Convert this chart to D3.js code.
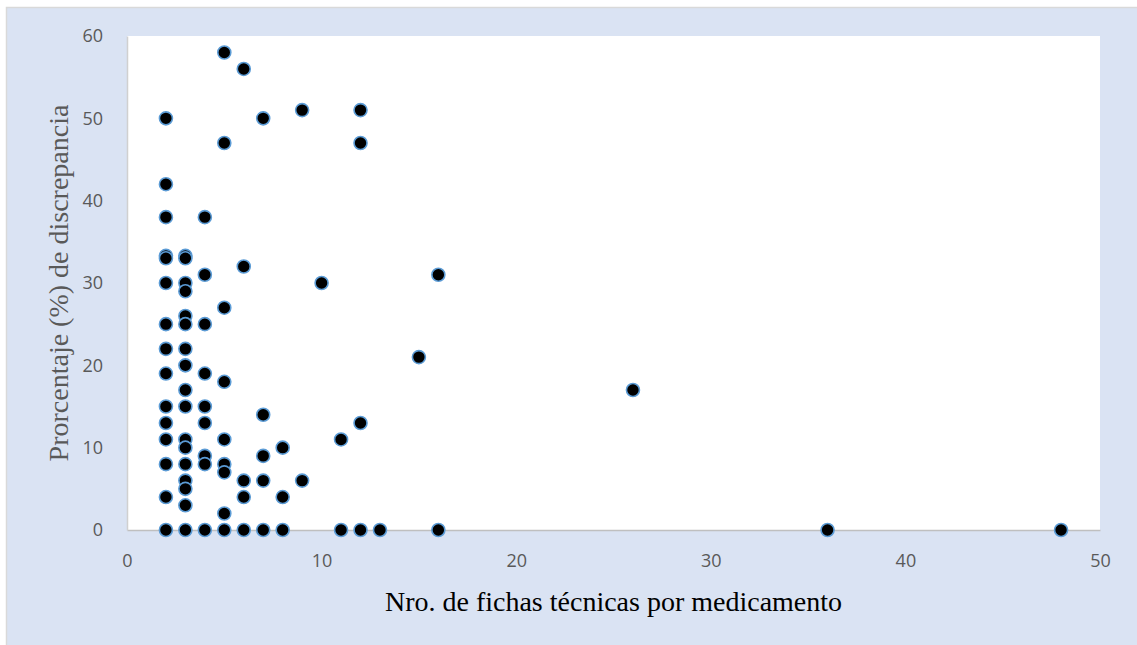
<!DOCTYPE html>
<html>
<head>
<meta charset="utf-8">
<script src="https://cdn.jsdelivr.net/npm/d3@7"></script>
<style>
    body { margin: 0; background: #ffffff; }
</style>
</head>
<body>
<div id="chart"></div>
<script>
// Nro. de fichas técnicas por medicamento (x) vs. porcentaje de discrepancia (y)
let fichas = [
    2, 2, 2, 2, 2, 2, 2, 2, 2, 2, 2, 2, 2, 2, 2,
    3, 3, 3, 3, 3, 3, 3, 3, 3, 3, 3, 3, 3, 3, 3, 3, 3,
    4, 4, 4, 4, 4, 4, 4, 4, 4,
    5, 5, 5, 5, 5, 5, 5, 5, 5,
    6, 6, 6, 6, 6,
    7, 7, 7, 7, 7,
    8, 8, 8,
    9, 9,
    10,
    11, 11,
    12, 12, 12, 12,
    13,
    15,
    16, 16,
    26,
    36,
    48
];
let discrepancia = [
    50, 42, 38, 33.3, 33, 30, 25, 22, 19, 15, 13, 11, 8, 4, 0,
    33.3, 33, 30, 29, 26, 25, 22, 20, 17, 15, 11, 10, 8, 6, 5, 3, 0,
    38, 31, 25, 19, 15, 13, 9, 8, 0,
    58, 47, 27, 18, 11, 8, 7, 2, 0,
    56, 32, 6, 4, 0,
    50, 14, 9, 6, 0,
    10, 4, 0,
    51, 6,
    30,
    11, 0,
    51, 47, 13, 0,
    0,
    21,
    31, 0,
    17,
    0,
    0
];
let xTicks = [0, 10, 20, 30, 40, 50];
let yTicks = [0, 10, 20, 30, 40, 50, 60];

let width = 1137, height = 645;

let svg = d3.select('#chart')
    .append('svg')
    .attr('width', width)
    .attr('height', height);

// chart area background
svg.append('rect')
    .attr('x', 6.5)
    .attr('y', 7.5)
    .attr('width', width)
    .attr('height', height)
    .attr('fill', '#dae3f3')
    .attr('stroke', '#d9d9d9')
    .attr('stroke-width', 1.5);

let xScale = d3.scaleLinear().domain([0, 50]).range([127, 1100]);
let yScale = d3.scaleLinear().domain([0, 60]).range([530, 36]);

// plot area
svg.append('rect')
    .attr('x', xScale(0))
    .attr('y', yScale(60))
    .attr('width', xScale(50) - xScale(0))
    .attr('height', yScale(0) - yScale(60))
    .attr('fill', '#ffffff');

let xAxis = svg.append('g')
    .attr('transform', `translate(0,${yScale(0)})`)
    .call(d3.axisBottom(xScale).tickValues(xTicks).tickSize(0).tickPadding(24));

let yAxis = svg.append('g')
    .attr('transform', `translate(${xScale(0)},0)`)
    .call(d3.axisLeft(yScale).tickValues(yTicks).tickSize(0).tickPadding(24));

[xAxis, yAxis].forEach(ax => {
    ax.select('.domain').attr('stroke', '#bfbfbf').attr('stroke-width', 1.5);
    ax.selectAll('text')
        .attr('fill', '#595959')
        .style('font-family', '"Open Sans", sans-serif')
        .style('font-size', '18px');
});
yAxis.select('.domain').attr('stroke', '#d0d0d0');

// points
let points = d3.zip(fichas, discrepancia);

svg.append('g')
    .attr('id', 'pointsG')
    .selectAll('circle')
    .data(points)
    .join('circle')
    .attr('cx', d => xScale(d[0]))
    .attr('cy', d => yScale(d[1]))
    .attr('r', 6.5)
    .attr('fill', '#000000')
    .attr('stroke', '#5b9bd5')
    .attr('stroke-width', 1.6);

// axis titles
svg.append('text')
    .attr('x', (xScale(0) + xScale(50)) / 2)
    .attr('y', 611)
    .attr('text-anchor', 'middle')
    .style('font-family', '"Liberation Serif", "Times New Roman", serif')
    .style('font-size', '28px')
    .attr('fill', '#000000')
    .text('Nro. de fichas técnicas por medicamento');

svg.append('text')
    .attr('transform', `translate(68,${(yScale(0) + yScale(60)) / 2}) rotate(-90)`)
    .attr('text-anchor', 'middle')
    .style('font-family', '"Liberation Serif", "Times New Roman", serif')
    .style('font-size', '28px')
    .attr('fill', '#595959')
    .text('Prorcentaje (%) de discrepancia');
</script>
</body>
</html>
